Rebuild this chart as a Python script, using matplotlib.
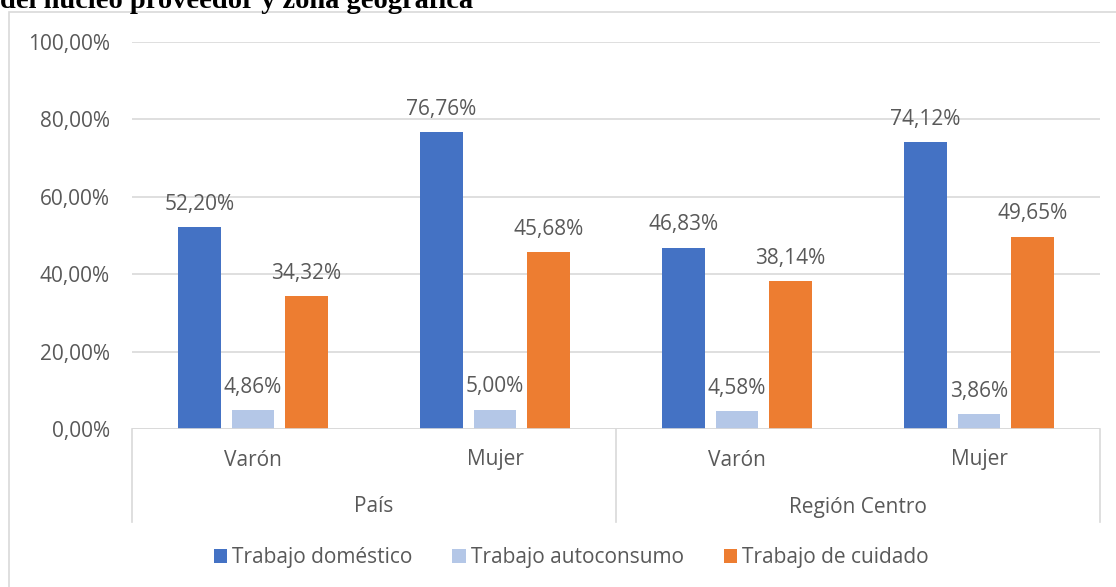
import matplotlib.pyplot as plt
from matplotlib.patches import Rectangle
from matplotlib.lines import Line2D

regions = ["País", "Región Centro"]
sexes = ["Varón", "Mujer", "Varón", "Mujer"]
series = ["Trabajo doméstico", "Trabajo autoconsumo", "Trabajo de cuidado"]
domestico = [52.20, 76.76, 46.83, 74.12]
autoconsumo = [4.86, 5.00, 4.58, 3.86]
cuidado = [34.32, 45.68, 38.14, 49.65]
colors = ["#4472C4", "#B4C7E7", "#ED7D31"]
yticks = [0, 20, 40, 60, 80, 100]

TXT = "#595959"
GRID = "#D9D9D9"
FONT = ["Open Sans", "DejaVu Sans"]
FS = 15


def pct(v):
    return f"{v:.2f}".replace(".", ",") + "%"


fig = plt.figure(figsize=(11.16, 5.87), dpi=100)
W, H = 1116, 587
# plot area in pixels: x 132-1100, y 42-429
ax = fig.add_axes([132 / W, 1 - 429 / H, (1100 - 132) / W, (429 - 42) / H])

width = 0.174
offset = 0.221
x = list(range(len(sexes)))
for i, (vals, col) in enumerate(zip([domestico, autoconsumo, cuidado], colors)):
    xs = [xi + (i - 1) * offset for xi in x]
    ax.bar(xs, vals, width=width, color=col, label=series[i], zorder=3)
    for xv, v in zip(xs, vals):
        ax.annotate(pct(v), (xv, v), xytext=(0, 16.5), textcoords="offset points",
                    ha="center", va="center", fontsize=FS, color=TXT, family=FONT)

ax.set_xlim(-0.5, len(sexes) - 0.5)
ax.set_ylim(0, 100)
ax.set_yticks(yticks)
ax.set_yticklabels([pct(t) for t in yticks], fontsize=FS, color=TXT, family=FONT)
ax.tick_params(axis="y", length=0, pad=16)
ax.set_xticks([])
ax.grid(axis="y", color=GRID, linewidth=1.2, zorder=0)
for s in ax.spines.values():
    s.set_visible(False)
ax.axhline(0, color=GRID, linewidth=1.2, zorder=4)

# multi-level category axis
tr = ax.get_xaxis_transform()
ybot = -(522 - 429) / (429 - 42)
for xv in [-0.5, 1.5, 3.5]:
    ax.add_line(Line2D([xv, xv], [0, ybot], transform=tr, color=GRID,
                       linewidth=1.2, clip_on=False))
for xi, s in zip(x, sexes):
    ax.text(xi, -(460 - 429) / (429 - 42), s, transform=tr, ha="center", va="center",
            fontsize=FS, color=TXT, family=FONT)
for j, r in enumerate(regions):
    ax.text(0.5 + 2 * j, -(507 - 429) / (429 - 42), r, transform=tr, ha="center",
            va="center", fontsize=FS, color=TXT, family=FONT)

leg = fig.legend(loc="center", bbox_to_anchor=(0.512, 1 - 558 / H), ncol=3, frameon=False,
                 prop={"family": FONT, "size": FS}, handlelength=0.65, handleheight=0.65,
                 handletextpad=0.25, columnspacing=1.9)
for t in leg.get_texts():
    t.set_color(TXT)

# chart frame (right/bottom edges outside the image)
fig.add_artist(Rectangle((9 / W, -0.1), 1.2, 1 - 12 / H + 0.1, transform=fig.transFigure,
                         fill=False, edgecolor=GRID, linewidth=1.2))

fig.text(0, 1 - 8 / H, "del núcleo proveedor y zona geográfica", ha="left", va="baseline",
         fontsize=20.5, fontweight="bold", family=["Liberation Serif", "DejaVu Serif"])

fig.savefig("out.png", dpi=100)
